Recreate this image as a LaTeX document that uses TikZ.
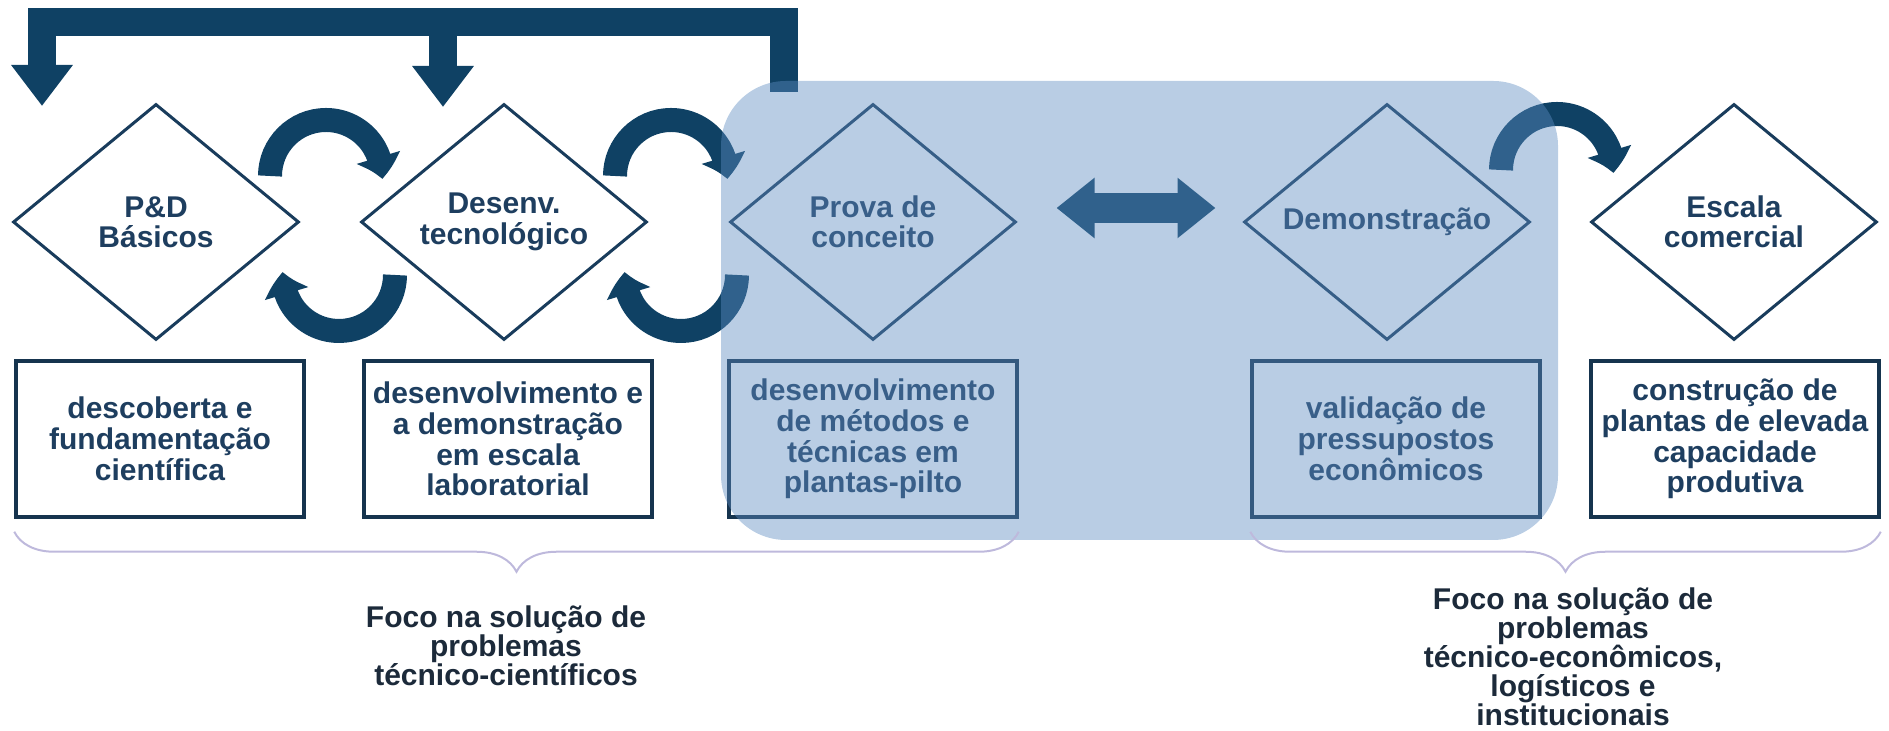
\documentclass[tikz,border=0pt]{standalone}
\usepackage{fontspec}
\setmainfont{Liberation Sans}
\usetikzlibrary{shapes.geometric,arrows.meta,bending,decorations.pathreplacing}

\definecolor{navy}{RGB}{15,65,100}
\definecolor{rim}{RGB}{25,60,92}
\definecolor{boxrim}{RGB}{22,52,78}
\definecolor{ink}{RGB}{30,62,95}
\definecolor{dark}{RGB}{28,42,58}
\definecolor{haze}{RGB}{93,140,193}
\definecolor{lilac}{RGB}{190,185,220}

\begin{document}
\begin{tikzpicture}[x=0.5pt, y=0.5pt, thick, line join=miter,
					stage/.style={diamond, draw=rim, line width=1.5pt, aspect=1.21, minimum width=143pt,
					minimum height=118pt, inner sep=0pt, align=center, text=ink,
					font=\bfseries\fontsize{15}{15.2}\selectfont},
					task/.style={rectangle, draw=boxrim, line width=1.75pt, minimum width=144pt,
					minimum height=78pt, inner sep=0pt, align=center, text=ink,
					font=\bfseries\fontsize{15}{15.4}\selectfont}]

	\tikzstyle{every node}=[font=\bfseries\fontsize{15}{14.5}\selectfont]
	\tikzstyle{feedback}=[draw=navy, line width=14pt, -{Triangle[width=29.5pt,length=20.5pt]}]
	\tikzstyle{turn}=[draw=navy, line width=12pt, -{Triangle[width=22pt,length=11pt,bend]}]
	\tikzstyle{twoway}=[draw=navy, line width=15pt, {Triangle[width=29pt,length=19pt]}-{Triangle[width=29pt,length=19pt]}]
	\tikzstyle{span}=[draw=lilac, line width=1pt, decorate, decoration={brace, amplitude=20pt}]
	\tikzstyle{note}=[align=center, text=dark]

	\useasboundingbox (0,0) rectangle (1889,731);

	% stages
	\node[stage] (pd) at (156,509) {P\&D\\Básicos};
	\node[stage] (dt) at (504,509) {Desenv.\\tecnológico};
	\node[stage] (pc) at (873,509) {Prova de\\conceito};
	\node[stage] (dm) at (1387,509) {Demonstração};
	\node[stage] (ec) at (1734,509) {Escala\\comercial};

	% descriptions
	\node[task] (pdtxt) at (160,292) {descoberta e\\fundamentação\\científica};
	\node[task] (dttxt) at (508,292) {desenvolvimento e\\a demonstração\\em escala\\laboratorial};
	\node[task] (pctxt) at (873,292) {desenvolvimento\\de métodos e\\técnicas em\\plantas-pilto};
	\node[task] (dmtxt) at (1396,292) {validação de\\pressupostos\\econômicos};
	\node[task] (ectxt) at (1735,292) {construção de\\plantas de elevada\\capacidade\\produtiva};

	% feedback bar
	\coordinate (back) at (784,639);
	\coordinate (bar) at (784,709);
	\coordinate (topd) at (42,625);
	\coordinate (todt) at (443,624);
	\draw[feedback] (back) -- (bar) -| (topd);
	\draw[feedback] (todt |- bar) -- (todt);

	% loops
	\coordinate (upa) at (326,555);
	\coordinate (lowa) at (339,456);
	\coordinate (upb) at (671,555);
	\coordinate (lowb) at (681,456);
	\coordinate (upc) at (1557,561);
	\draw[turn] ([shift={(180:56)}]upa) arc[start angle=180, end angle=-3, radius=56];
	\draw[turn] ([shift={(0:56)}]lowa) arc[start angle=0, end angle=-183, radius=56];
	\draw[turn] ([shift={(180:56)}]upb) arc[start angle=180, end angle=-3, radius=56];
	\draw[turn] ([shift={(0:56)}]lowb) arc[start angle=0, end angle=-183, radius=56];
	\draw[turn] ([shift={(180:56)}]upc) arc[start angle=180, end angle=-3, radius=56];

	\draw[twoway] ([shift={(39,14)}]pc.east) -- ([shift={(-27,14)}]dm.west);

	% pilot area
	\fill[haze, opacity=0.43, rounded corners=32.5pt] (721,191) rectangle (1558,650);

	% braces
	\draw[span] ([yshift=-6.5pt]pctxt.south east) -- ([yshift=-6.5pt]pdtxt.south west);
	\draw[span] ([yshift=-6.5pt]ectxt.south east) -- ([yshift=-6.5pt]dmtxt.south west);

	\node[note] (focoa) at (506,85) {Foco na solução de\\problemas\\técnico-científicos};
	\node[note] (focob) at (1573,74) {Foco na solução de\\problemas\\técnico-econômicos,\\logísticos e\\institucionais};
\end{tikzpicture}
\end{document}
